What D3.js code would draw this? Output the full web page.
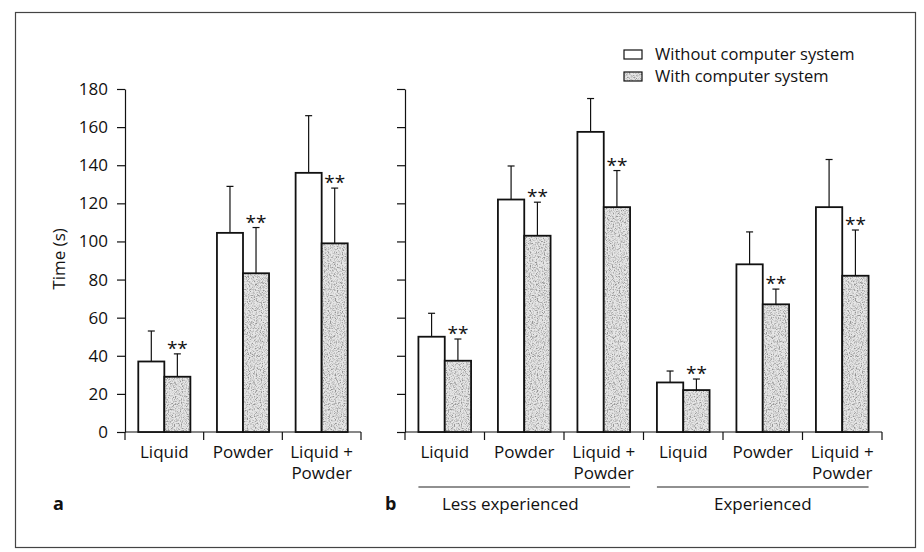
<!DOCTYPE html>
<html>
<head>
<meta charset="utf-8">
<script src="https://cdn.jsdelivr.net/npm/d3@7"></script>
<style>
  body { margin: 0; background: #fff; }
  svg { display: block; font-family: "Open Sans", sans-serif; }
  text { fill: #111; }
</style>
</head>
<body>
<svg width="924" height="552"></svg>
<script>
// values (mean time in s, error bar = upper SD)
const series = ["Without computer system", "With computer system"];
const yTicks = [0, 20, 40, 60, 80, 100, 120, 140, 160, 180];

const categoriesA = ["Liquid", "Powder", "Liquid + Powder"];
const withoutA = [37, 104.5, 136];
const withA = [29, 83.3, 99];
const withoutErrA = [16, 24.4, 30];
const withErrA = [12, 24, 29];

const categoriesB = ["Liquid", "Powder", "Liquid + Powder", "Liquid", "Powder", "Liquid + Powder"];
const experience = ["Less experienced", "Experienced"];
const withoutB = [50, 122, 157.5, 26, 88, 118];
const withB = [37.4, 103, 118, 22, 67, 82];
const withoutErrB = [12.3, 17.6, 17.5, 6, 17, 25];
const withErrB = [11.4, 17.6, 19.2, 5.8, 8, 24];

const width = 924, height = 552;
const svg = d3.select("svg");

// stipple texture for the "with computer system" bars
const defs = svg.append("defs");
const f = defs.append("filter").attr("id", "stipple")
    .attr("x", 0).attr("y", 0).attr("width", 1).attr("height", 1);
f.append("feTurbulence").attr("type", "fractalNoise").attr("baseFrequency", 0.85)
    .attr("numOctaves", 2).attr("seed", 4).attr("result", "noise");
f.append("feColorMatrix").attr("in", "noise").attr("type", "matrix")
    .attr("values", "0 0 0 0 0.3  0 0 0 0 0.3  0 0 0 0 0.3  3.2 0 0 0 -1.4")
    .attr("result", "dots");
f.append("feFlood").attr("flood-color", "#e6e6e6").attr("result", "bg");
f.append("feComposite").attr("in", "dots").attr("in2", "bg").attr("operator", "over").attr("result", "tex");
f.append("feComposite").attr("in", "tex").attr("in2", "SourceGraphic").attr("operator", "in");

// frame
svg.append("rect")
    .attr("x", 15.5).attr("y", 12.5).attr("width", 900).attr("height", 535)
    .attr("fill", "none").attr("stroke", "#444").attr("stroke-width", 1.2);

const y = d3.scaleLinear().domain([0, 180]).range([432, 89]);

function drawPanel(left, right, cats, without, withS, errWithout, errWith, showTickLabels) {
    const g = svg.append("g");
    const x = d3.scaleBand().domain(d3.range(cats.length)).range([left, right]);
    const xs = d3.scaleBand().domain(series).range([0, x.bandwidth()]).paddingOuter(0.51);

    const yAxis = d3.axisLeft(y).tickValues(yTicks).tickSize(8).tickSizeOuter(0).tickPadding(9);
    if (!showTickLabels) yAxis.tickFormat("");
    const ya = g.append("g").attr("transform", `translate(${left},0)`).call(yAxis);
    ya.selectAll("text").style("font-size", "17px").style("font-family", "Open Sans").attr("fill", "#111");
    ya.selectAll("line, path").attr("stroke", "#111").attr("stroke-width", 1.2);

    // x axis with ticks between groups
    g.append("line")
        .attr("x1", left).attr("x2", right)
        .attr("y1", y(0)).attr("y2", y(0))
        .attr("stroke", "#111").attr("stroke-width", 1.2);
    const bounds = x.domain().map(d => x(d)).concat([right]);
    g.selectAll(".xtick").data(bounds).enter().append("line")
        .attr("x1", d => d).attr("x2", d => d)
        .attr("y1", y(0)).attr("y2", y(0) + 8)
        .attr("stroke", "#111").attr("stroke-width", 1.2);

    const rows = cats.map((c, i) => ({
        i, c,
        vals: [
            { s: series[0], v: without[i], e: errWithout[i] },
            { s: series[1], v: withS[i], e: errWith[i] }
        ]
    }));

    const grp = g.selectAll(".grp").data(rows).enter().append("g")
        .attr("transform", d => `translate(${x(d.i)},0)`);

    const bar = grp.selectAll(".bar").data(d => d.vals).enter().append("g");

    // error bars (upper only)
    bar.append("line")
        .attr("x1", d => xs(d.s) + xs.bandwidth() / 2).attr("x2", d => xs(d.s) + xs.bandwidth() / 2)
        .attr("y1", d => y(d.v)).attr("y2", d => y(d.v + d.e))
        .attr("stroke", "#111").attr("stroke-width", 1.2);
    bar.append("line")
        .attr("x1", d => xs(d.s) + xs.bandwidth() / 2 - 3.5).attr("x2", d => xs(d.s) + xs.bandwidth() / 2 + 3.5)
        .attr("y1", d => y(d.v + d.e)).attr("y2", d => y(d.v + d.e))
        .attr("stroke", "#111").attr("stroke-width", 1.2);

    bar.append("rect")
        .attr("x", d => xs(d.s)).attr("width", xs.bandwidth())
        .attr("y", d => y(d.v)).attr("height", d => y(0) - y(d.v))
        .attr("fill", d => d.s === series[0] ? "#fff" : "#ccc")
        .attr("filter", d => d.s === series[0] ? null : "url(#stipple)");
    bar.append("rect")
        .attr("x", d => xs(d.s)).attr("width", xs.bandwidth())
        .attr("y", d => y(d.v)).attr("height", d => y(0) - y(d.v))
        .attr("fill", "none").attr("stroke", "#111").attr("stroke-width", 1.8);

    // significance marks over the "with" bars
    grp.append("text")
        .attr("x", d => xs(series[1]) + xs.bandwidth() / 2)
        .attr("y", d => y(d.vals[1].v + d.vals[1].e) + 1)
        .attr("text-anchor", "middle")
        .style("font-size", "19px")
        .text("**");

    // category labels
    const lab = grp.append("text")
        .attr("text-anchor", "middle")
        .attr("x", x.bandwidth() / 2)
        .attr("y", 458)
        .style("font-size", "17px");
    lab.each(function(d) {
        const parts = d.c.split(" + ");
        const t = d3.select(this);
        if (parts.length === 1) {
            t.append("tspan").attr("x", x.bandwidth() / 2).text(d.c);
        } else {
            t.append("tspan").attr("x", x.bandwidth() / 2).text(parts[0] + " +");
            t.append("tspan").attr("x", x.bandwidth() / 2).attr("dy", 21).text(parts[1]);
        }
    });

    return { x, xs };
}

drawPanel(125, 361, categoriesA, withoutA, withA, withoutErrA, withErrA, true);
const pb = drawPanel(405, 882, categoriesB, withoutB, withB, withoutErrB, withErrB, false);

// experience group underlines
experience.forEach((name, k) => {
    const x0 = pb.x(k * 3) + pb.xs(series[0]);
    const x1 = pb.x(k * 3 + 2) + pb.xs(series[1]) + pb.xs.bandwidth();
    svg.append("line")
        .attr("x1", x0).attr("x2", x1).attr("y1", 487).attr("y2", 487)
        .attr("stroke", "#222").attr("stroke-width", 1.2);
    svg.append("text")
        .attr("x", k === 0 ? (x0 + x1) / 2 - 14 : (x0 + x1) / 2)
        .attr("y", 510)
        .attr("text-anchor", "middle")
        .style("font-size", "17px")
        .text(name);
});

// y axis title
svg.append("text")
    .attr("transform", "translate(65,259) rotate(-90)")
    .attr("text-anchor", "middle")
    .style("font-size", "17px")
    .text("Time (s)");

// panel letters
svg.append("text").attr("x", 53).attr("y", 510).style("font-size", "18px").style("font-weight", "bold").text("a");
svg.append("text").attr("x", 385).attr("y", 510).style("font-size", "18px").style("font-weight", "bold").text("b");

// legend
const legend = svg.append("g");
series.forEach((s, i) => {
    const ly = 50 + i * 22;
    legend.append("rect")
        .attr("x", 624).attr("y", ly).attr("width", 18).attr("height", 9)
        .attr("fill", i === 0 ? "#fff" : "#ccc")
        .attr("filter", i === 0 ? null : "url(#stipple)");
    legend.append("rect")
        .attr("x", 624).attr("y", ly).attr("width", 18).attr("height", 9)
        .attr("fill", "none").attr("stroke", "#111").attr("stroke-width", 1.2);
    legend.append("text")
        .attr("x", 655).attr("y", ly + 10)
        .style("font-size", "16.5px")
        .text(s);
});
</script>
</body>
</html>
